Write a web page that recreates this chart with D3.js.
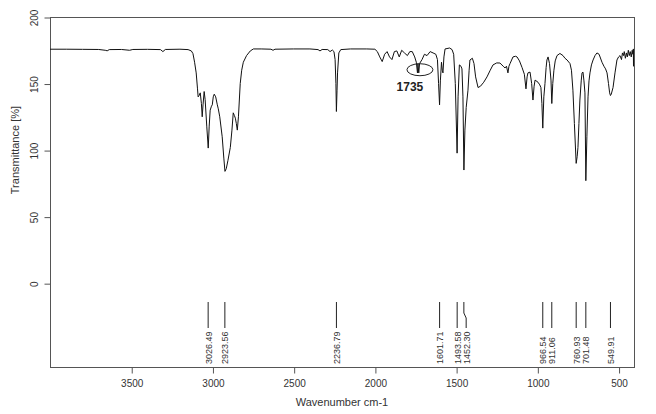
<!DOCTYPE html>
<html>
<head>
<meta charset="utf-8">
<script src="https://cdn.jsdelivr.net/npm/d3@7"></script>
<style>
  html, body { margin: 0; padding: 0; background: #fff; }
  svg { display: block; font-family: "Liberation Sans", Arial, sans-serif; }
</style>
</head>
<body>
<svg id="chart" width="656" height="414"></svg>
<script>
// ---- data ----
const wavenumber = [4000,3900,3800,3700,3660,3648,3635,3560,3510,3490,3400,3320,3305,3290,3200,3150,3130,3120,3110,3100,3092,3088,3082,3075,3068,3063,3058,3051,3045,3035,3026,3020,3014,3006,3001,2995,2989,2980,2970,2964,2955,2940,2930,2923,2915,2905,2890,2880,2872,2865,2859,2853,2847,2840,2829,2820,2810,2790,2767,2748,2700,2640,2627,2615,2500,2400,2350,2338,2325,2290,2276,2262,2252,2245,2240,2237,2233,2230,2222,2210,2150,2050,2000,1985,1970,1955,1940,1925,1910,1895,1880,1865,1850,1835,1818,1800,1785,1770,1755,1745,1738,1735,1730,1725,1710,1695,1679,1660,1642,1625,1615,1608,1602,1597,1590,1585,1581,1575,1568,1540,1525,1515,1505,1494,1488,1480,1470,1464,1458,1452,1446,1438,1427,1420,1415,1400,1390,1380,1365,1350,1330,1310,1290,1273,1250,1230,1210,1199,1190,1181,1175,1168,1150,1135,1125,1110,1094,1080,1070,1063,1058,1045,1035,1027,1020,1014,996,985,978,972,966.5,960,953,946,941,934,925,916,911,905,898,890,879,861,842,830,817,799,790,781,772,761,755,750,744,738,730,725,719,713,707,701.5,695,688,682,676,667,657,645,633,620,602,590,580,571,562,555,550,545,534,522,510,500,491,482,476,470,465,458,452,446,440,434,428,422,416,412,409,408,406];
const transmittance = [175.8,175.8,175.7,175.6,175.0,174.6,175.5,175.6,175.0,175.6,175.7,175.5,174.0,175.6,175.8,175.5,174.5,172.5,166,158,146,140,141,143,135,125,134,144,138,118,101.5,118,130,133,134,140,142,140,134,131,125,110,94,84,86,92,102,115,128,126,124,120,115,125,150,160,166,171,174.5,176,176,175.8,175,175.8,176,176,175.5,174.5,175.6,175.5,174,175.2,174,168,150,129,145,158,173,175.5,176,176,175.8,174,170,166.5,172,174,170,168,174,174.5,170,175,173,171,174,174,170,166,158,165,158,165,168,172,171,174,173,172,168,150,134,152,166,160,158,170,176,176.7,175.5,172,150,97.7,140,164,163,161,140,85,115,132,145,160,167.7,169,165,155,147,148,151,155,160,164,165.5,165.4,163,161.7,163,158,163,165,170,170.5,170,167,162,157,146,155,158,158.6,150,137.6,148,152.6,151,149,147,135,116.5,140,150,162,167.7,170,165,152.6,135,150,160,167,171,172.6,171,169,167.7,165,160,145,120,90,95,102,120,137.6,152,158,158.6,152,143,77,110,140,152,158,164,167.7,171,173,172,166,163,161,158,150,143,141,142,147,158,167.7,170,171,168,173,171,174,169,173,170,175,171,174,170,175,172,176,163,175];

const peakWavenumbers = [3026.49, 2923.56, 2236.79, 1601.71, 1493.58, 1452.30, 966.54, 911.06, 760.93, 701.48, 549.91];
const peakLabels = ["3026.49", "2923.56", "2236.79", "1601.71", "1493.58", "1452.30", "966.54", "911.06", "760.93", "701.48", "549.91"];

const xTicks = [3500, 3000, 2500, 2000, 1500, 1000, 500];
const yTicks = [0, 50, 100, 150, 200];
const xDomain = [4000, 405];
const yDomain = [-63, 200];

const annotationWavenumber = 1735;
const annotationValue = 160;
const annotationText = "1735";

const xTitle = "Wavenumber cm-1";
const yTitle = "Transmittance [%]";

// ---- layout ----
const svg = d3.select("#chart");
const mLeft = 50, mRight = 634, mTop = 17, mBottom = 367;
const axisColor = "#555";
const textColor = "#333";

const x = d3.scaleLinear().domain(xDomain).range([mLeft, mRight]);
const y = d3.scaleLinear().domain(yDomain).range([mBottom, mTop]);

// clip
svg.append("defs").append("clipPath").attr("id", "plotclip")
  .append("rect").attr("x", mLeft).attr("y", mTop).attr("width", mRight - mLeft).attr("height", mBottom - mTop);

// frame
svg.append("rect")
  .attr("x", mLeft + 0.5).attr("y", mTop + 0.5)
  .attr("width", mRight - mLeft).attr("height", mBottom - mTop)
  .attr("fill", "none").attr("stroke", axisColor).attr("stroke-width", 1);

// x axis
const xAxis = d3.axisBottom(x).tickValues(xTicks).tickSize(6).tickPadding(6).tickFormat(d3.format("d"));
const gx = svg.append("g").attr("transform", `translate(0.5,${mBottom + 0.5})`).call(xAxis);
gx.select(".domain").remove();
gx.selectAll("line").attr("stroke", axisColor);
gx.selectAll("text").attr("fill", textColor).attr("font-size", 10)
  .attr("font-family", "'Liberation Sans', Arial, sans-serif");

// y axis
const yAxis = d3.axisLeft(y).tickValues(yTicks).tickSize(6).tickFormat(d3.format("d"));
const gy = svg.append("g").attr("transform", `translate(${mLeft + 0.5},0.5)`).call(yAxis);
gy.select(".domain").remove();
gy.selectAll("line").attr("stroke", axisColor);
gy.selectAll("text")
  .attr("fill", textColor).attr("font-size", 10)
  .attr("font-family", "'Liberation Sans', Arial, sans-serif")
  .attr("x", null).attr("dy", null)
  .attr("text-anchor", "middle")
  .attr("transform", "translate(-13,0) rotate(-90)");

// titles
svg.append("text")
  .attr("x", (mLeft + mRight) / 2).attr("y", 406)
  .attr("text-anchor", "middle").attr("font-size", 11).attr("fill", textColor)
  .text(xTitle);
svg.append("text")
  .attr("transform", `translate(19,${y(100)}) rotate(-90)`)
  .attr("text-anchor", "middle").attr("font-size", 11).attr("fill", textColor)
  .text(yTitle);

// spectrum
const n = Math.min(wavenumber.length, transmittance.length);
const spectrum = wavenumber.slice(0, n).map((w, i) => ({ w, t: transmittance[i] }));
const line = d3.line().x(d => x(d.w)).y(d => y(d.t));
svg.append("path")
  .datum(spectrum)
  .attr("clip-path", "url(#plotclip)")
  .attr("d", line)
  .attr("fill", "none")
  .attr("stroke", "#111")
  .attr("stroke-width", 1)
  .attr("stroke-linejoin", "round");

// peak labels with simple spacing to avoid overlaps
const lineTop = 302, lineBend = 313, lineBend2 = 318, lineBottom = 328, textBottom = 364;
const minGap = 9;
let prevX = -Infinity;
const peaks = peakWavenumbers.map((w, i) => {
  const px = x(w);
  const tx = Math.max(px, prevX + minGap);
  prevX = tx;
  return { px, tx, label: peakLabels[i] };
});
const gp = svg.append("g");
peaks.forEach(p => {
  gp.append("path")
    .attr("d", `M${p.px},${lineTop}V${lineBend}L${p.tx},${lineBend2}V${lineBottom}`)
    .attr("fill", "none").attr("stroke", "#222").attr("stroke-width", 1);
  gp.append("text")
    .attr("transform", `translate(${p.tx + 3.5},${textBottom}) rotate(-90)`)
    .attr("text-anchor", "start").attr("font-size", 9).attr("fill", textColor)
    .text(p.label);
});

// annotation ellipse + label
const ax = x(annotationWavenumber), ay = y(annotationValue);
svg.append("ellipse")
  .attr("cx", ax + 2).attr("cy", ay - 0.5).attr("rx", 13).attr("ry", 6)
  .attr("fill", "none").attr("stroke", "#222").attr("stroke-width", 1);
svg.append("text")
  .attr("x", ax - 8).attr("y", ay + 21)
  .attr("text-anchor", "middle").attr("font-size", 12).attr("font-weight", "bold")
  .attr("fill", "#222")
  .text(annotationText);
</script>
</body>
</html>
